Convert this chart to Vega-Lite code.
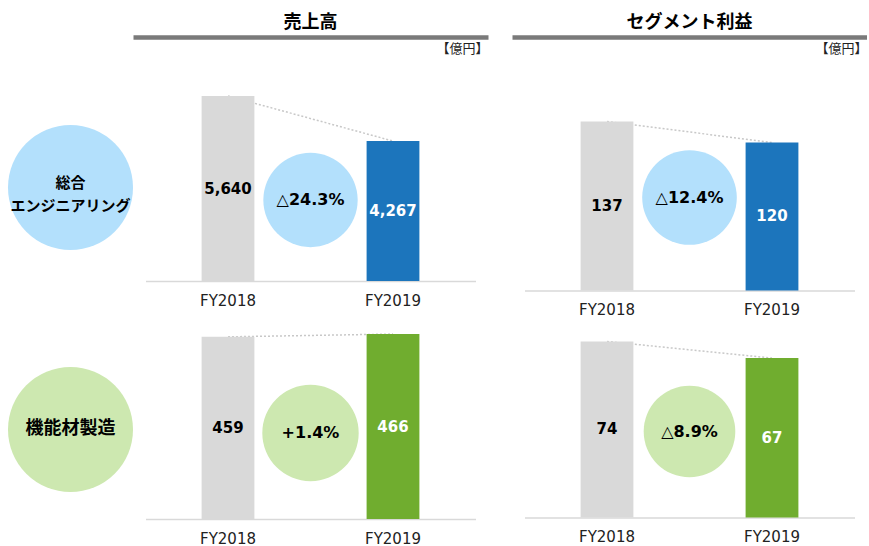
{
  "$schema": "https://vega.github.io/schema/vega-lite/v6.json",
  "padding": {"left": 8, "top": 0, "right": 0, "bottom": 0},
  "background": "white",
  "config": {"view": {"stroke": null}, "axis": {"grid": false}},
  "datasets": {
    "bars": [
      {"segment": "総合エンジニアリング", "metric": "売上高", "year": "FY2018", "value": 5640},
      {"segment": "総合エンジニアリング", "metric": "売上高", "year": "FY2019", "value": 4267},
      {"segment": "総合エンジニアリング", "metric": "セグメント利益", "year": "FY2018", "value": 137},
      {"segment": "総合エンジニアリング", "metric": "セグメント利益", "year": "FY2019", "value": 120},
      {"segment": "機能材製造", "metric": "売上高", "year": "FY2018", "value": 459},
      {"segment": "機能材製造", "metric": "売上高", "year": "FY2019", "value": 466},
      {"segment": "機能材製造", "metric": "セグメント利益", "year": "FY2018", "value": 74},
      {"segment": "機能材製造", "metric": "セグメント利益", "year": "FY2019", "value": 67}
    ],
    "changes": [
      {"segment": "総合エンジニアリング", "metric": "売上高", "change": "△24.3%"},
      {"segment": "総合エンジニアリング", "metric": "セグメント利益", "change": "△12.4%"},
      {"segment": "機能材製造", "metric": "売上高", "change": "+1.4%"},
      {"segment": "機能材製造", "metric": "セグメント利益", "change": "△8.9%"}
    ],
    "segments": [
      {"segment": "総合エンジニアリング", "label": "総合\nエンジニアリング"},
      {"segment": "機能材製造", "label": "機能材製造"}
    ],
    "headers": [
      {"metric": "売上高"},
      {"metric": "セグメント利益"}
    ]
  },
  "hconcat": [
    {
      "hconcat": [
        {
          "width": 125,
          "height": 518,
          "data": {"name": "segments"},
          "layer": [
            {
              "mark": {"type": "circle", "size": 15625, "opacity": 1},
              "encoding": {
                "y": {"field": "segment", "type": "nominal", "scale": {"type": "point", "domain": ["総合エンジニアリング", "機能材製造"], "padding": 0.5702, "align": 0.6793}, "axis": null},
                "color": {"condition": {"test": "datum.segment === '総合エンジニアリング'", "value": "#b3e0fc"}, "value": "#cde8b0"}
              }
            },
            {
              "transform": [{"filter": "datum.segment === '総合エンジニアリング'"}],
              "mark": {"type": "text", "font": "Noto Sans CJK JP", "fontSize": 15, "fontWeight": "bold", "lineBreak": "\n", "lineHeight": 23, "dy": -4, "color": "#000000"},
              "encoding": {
                "y": {"field": "segment", "type": "nominal", "scale": {"type": "point", "domain": ["総合エンジニアリング", "機能材製造"], "padding": 0.5702, "align": 0.6793}, "axis": null},
                "text": {"field": "label"}
              }
            },
            {
              "transform": [{"filter": "datum.segment === '機能材製造'"}],
              "mark": {"type": "text", "font": "Noto Sans CJK JP", "fontSize": 18, "fontWeight": "bold", "dy": 0, "color": "#000000"},
              "encoding": {
                "y": {"field": "segment", "type": "nominal", "scale": {"type": "point", "domain": ["総合エンジニアリング", "機能材製造"], "padding": 0.5702, "align": 0.6793}, "axis": null},
                "text": {"field": "label"}
              }
            }
          ]
        },
        {
          "vconcat": [
            {
              "width": 355,
              "height": 37,
              "data": {"name": "headers"},
              "transform": [{"filter": "datum.metric === '売上高'"}],
              "mark": {"type": "text", "font": "Noto Sans CJK JP", "fontSize": 18, "fontWeight": "bold", "color": "#000000", "dy": 4.5},
              "encoding": {
                "x": {"field": "metric", "type": "nominal", "axis": {"labels": false, "ticks": false, "domainColor": "#7a7a7a", "domainWidth": 4.5, "title": "【億円】", "titleAnchor": "end", "titleAlign": "right", "titleFont": "Noto Sans CJK JP", "titleFontSize": 13, "titleFontWeight": "normal", "titleColor": "#222222", "titlePadding": 5}},
                "text": {"field": "metric"}
              }
            },
            {
              "vconcat": [
                {
                  "width": 330,
                  "height": 162,
                  "layer": [
                    {
                      "data": {"name": "bars"},
                      "transform": [{"filter": "datum.segment === '総合エンジニアリング' && datum.metric === '売上高'"}],
                      "mark": {"type": "line", "strokeDash": [2, 2], "color": "#c8c8c8", "strokeWidth": 1.5},
                      "encoding": {
                        "x": {"field": "year", "type": "nominal", "scale": {"domain": ["FY2018", "FY2019"], "paddingInner": 0.68, "paddingOuter": 0.34}, "axis": {"title": null, "labelAngle": 0, "ticks": false, "tickSize": 0, "labelPadding": 19, "labelBaseline": "middle", "labelFont": "DejaVu Sans", "labelFontSize": 15, "labelColor": "#222222", "domainColor": "#d9d9d9", "domainWidth": 1.5}},
                        "y": {"field": "value", "type": "quantitative", "scale": {"domain": [0, 4939], "nice": false}, "axis": null}
                      }
                    },
                    {
                      "data": {"name": "bars"},
                      "transform": [{"filter": "datum.segment === '総合エンジニアリング' && datum.metric === '売上高'"}],
                      "mark": {"type": "bar"},
                      "encoding": {
                        "x": {"field": "year", "type": "nominal", "scale": {"domain": ["FY2018", "FY2019"], "paddingInner": 0.68, "paddingOuter": 0.34}, "axis": {"title": null, "labelAngle": 0, "ticks": false, "tickSize": 0, "labelPadding": 19, "labelBaseline": "middle", "labelFont": "DejaVu Sans", "labelFontSize": 15, "labelColor": "#222222", "domainColor": "#d9d9d9", "domainWidth": 1.5}},
                        "y": {"field": "value", "type": "quantitative", "scale": {"domain": [0, 4939], "nice": false}, "axis": null},
                        "color": {"condition": {"test": "datum.year === 'FY2018'", "value": "#d9d9d9"}, "value": "#1c75bc"}
                      }
                    },
                    {
                      "data": {"name": "changes"},
                      "transform": [{"filter": "datum.segment === '総合エンジニアリング' && datum.metric === '売上高'"}],
                      "mark": {"type": "circle", "size": 8900, "opacity": 1, "color": "#b3e0fc"},
                      "encoding": {}
                    },
                    {
                      "data": {"name": "changes"},
                      "transform": [{"filter": "datum.segment === '総合エンジニアリング' && datum.metric === '売上高'"}],
                      "mark": {"type": "text", "font": "DejaVu Sans", "fontSize": 16, "fontWeight": "bold", "color": "#000000"},
                      "encoding": {"text": {"field": "change"}}
                    },
                    {
                      "data": {"name": "bars"},
                      "transform": [{"filter": "datum.segment === '総合エンジニアリング' && datum.metric === '売上高'"}],
                      "mark": {"type": "text", "font": "DejaVu Sans", "fontSize": 15, "fontWeight": "bold"},
                      "encoding": {
                        "x": {"field": "year", "type": "nominal", "scale": {"domain": ["FY2018", "FY2019"], "paddingInner": 0.68, "paddingOuter": 0.34}, "axis": {"title": null, "labelAngle": 0, "ticks": false, "tickSize": 0, "labelPadding": 19, "labelBaseline": "middle", "labelFont": "DejaVu Sans", "labelFontSize": 15, "labelColor": "#222222", "domainColor": "#d9d9d9", "domainWidth": 1.5}},
                        "y": {"field": "value", "type": "quantitative", "scale": {"domain": [0, 9878], "nice": false}, "axis": null},
                        "text": {"field": "value", "type": "quantitative", "format": ","},
                        "color": {"condition": {"test": "datum.year === 'FY2018'", "value": "#000000"}, "value": "#ffffff"}
                      }
                    }
                  ],
                  "resolve": {"scale": {"y": "independent"}}
                },
                {
                  "width": 330,
                  "height": 172,
                  "layer": [
                    {
                      "data": {"name": "bars"},
                      "transform": [{"filter": "datum.segment === '機能材製造' && datum.metric === '売上高'"}],
                      "mark": {"type": "line", "strokeDash": [2, 2], "color": "#c8c8c8", "strokeWidth": 1.5},
                      "encoding": {
                        "x": {"field": "year", "type": "nominal", "scale": {"domain": ["FY2018", "FY2019"], "paddingInner": 0.68, "paddingOuter": 0.34}, "axis": {"title": null, "labelAngle": 0, "ticks": false, "tickSize": 0, "labelPadding": 19, "labelBaseline": "middle", "labelFont": "DejaVu Sans", "labelFontSize": 15, "labelColor": "#222222", "domainColor": "#d9d9d9", "domainWidth": 1.5}},
                        "y": {"field": "value", "type": "quantitative", "scale": {"domain": [0, 433.4], "nice": false}, "axis": null}
                      }
                    },
                    {
                      "data": {"name": "bars"},
                      "transform": [{"filter": "datum.segment === '機能材製造' && datum.metric === '売上高'"}],
                      "mark": {"type": "bar"},
                      "encoding": {
                        "x": {"field": "year", "type": "nominal", "scale": {"domain": ["FY2018", "FY2019"], "paddingInner": 0.68, "paddingOuter": 0.34}, "axis": {"title": null, "labelAngle": 0, "ticks": false, "tickSize": 0, "labelPadding": 19, "labelBaseline": "middle", "labelFont": "DejaVu Sans", "labelFontSize": 15, "labelColor": "#222222", "domainColor": "#d9d9d9", "domainWidth": 1.5}},
                        "y": {"field": "value", "type": "quantitative", "scale": {"domain": [0, 433.4], "nice": false}, "axis": null},
                        "color": {"condition": {"test": "datum.year === 'FY2018'", "value": "#d9d9d9"}, "value": "#70ad2f"}
                      }
                    },
                    {
                      "data": {"name": "changes"},
                      "transform": [{"filter": "datum.segment === '機能材製造' && datum.metric === '売上高'"}],
                      "mark": {"type": "circle", "size": 9290, "opacity": 1, "color": "#cde8b0"},
                      "encoding": {}
                    },
                    {
                      "data": {"name": "changes"},
                      "transform": [{"filter": "datum.segment === '機能材製造' && datum.metric === '売上高'"}],
                      "mark": {"type": "text", "font": "DejaVu Sans", "fontSize": 16, "fontWeight": "bold", "color": "#000000"},
                      "encoding": {"text": {"field": "change"}}
                    },
                    {
                      "data": {"name": "bars"},
                      "transform": [{"filter": "datum.segment === '機能材製造' && datum.metric === '売上高'"}],
                      "mark": {"type": "text", "font": "DejaVu Sans", "fontSize": 15, "fontWeight": "bold"},
                      "encoding": {
                        "x": {"field": "year", "type": "nominal", "scale": {"domain": ["FY2018", "FY2019"], "paddingInner": 0.68, "paddingOuter": 0.34}, "axis": {"title": null, "labelAngle": 0, "ticks": false, "tickSize": 0, "labelPadding": 19, "labelBaseline": "middle", "labelFont": "DejaVu Sans", "labelFontSize": 15, "labelColor": "#222222", "domainColor": "#d9d9d9", "domainWidth": 1.5}},
                        "y": {"field": "value", "type": "quantitative", "scale": {"domain": [0, 866.8], "nice": false}, "axis": null},
                        "text": {"field": "value", "type": "quantitative", "format": ","},
                        "color": {"condition": {"test": "datum.year === 'FY2018'", "value": "#000000"}, "value": "#ffffff"}
                      }
                    }
                  ],
                  "resolve": {"scale": {"y": "independent"}}
                }
              ],
              "spacing": 66,
              "bounds": "flush"
            }
          ],
          "spacing": 38,
          "center": true
        }
      ],
      "spacing": -3.5
    },
    {
      "vconcat": [
        {
          "width": 355,
          "height": 37,
          "data": {"name": "headers"},
          "transform": [{"filter": "datum.metric === 'セグメント利益'"}],
          "mark": {"type": "text", "font": "Noto Sans CJK JP", "fontSize": 18, "fontWeight": "bold", "color": "#000000", "dy": 4.5},
          "encoding": {
            "x": {"field": "metric", "type": "nominal", "axis": {"labels": false, "ticks": false, "domainColor": "#7a7a7a", "domainWidth": 4.5, "title": "【億円】", "titleAnchor": "end", "titleAlign": "right", "titleFont": "Noto Sans CJK JP", "titleFontSize": 13, "titleFontWeight": "normal", "titleColor": "#222222", "titlePadding": 5}},
            "text": {"field": "metric"}
          }
        },
        {
          "vconcat": [
            {
              "width": 330,
              "height": 186,
              "layer": [
                {
                  "data": {"name": "bars"},
                  "transform": [{"filter": "datum.segment === '総合エンジニアリング' && datum.metric === 'セグメント利益'"}],
                  "mark": {"type": "line", "strokeDash": [2, 2], "color": "#c8c8c8", "strokeWidth": 1.5},
                  "encoding": {
                    "x": {"field": "year", "type": "nominal", "scale": {"domain": ["FY2018", "FY2019"], "paddingInner": 0.68, "paddingOuter": 0.34}, "axis": {"title": null, "labelAngle": 0, "ticks": false, "tickSize": 0, "labelPadding": 19, "labelBaseline": "middle", "labelFont": "DejaVu Sans", "labelFontSize": 15, "labelColor": "#222222", "domainColor": "#d9d9d9", "domainWidth": 1.5}},
                    "y": {"field": "value", "type": "quantitative", "scale": {"domain": [0, 150.8], "nice": false}, "axis": null}
                  }
                },
                {
                  "data": {"name": "bars"},
                  "transform": [{"filter": "datum.segment === '総合エンジニアリング' && datum.metric === 'セグメント利益'"}],
                  "mark": {"type": "bar"},
                  "encoding": {
                    "x": {"field": "year", "type": "nominal", "scale": {"domain": ["FY2018", "FY2019"], "paddingInner": 0.68, "paddingOuter": 0.34}, "axis": {"title": null, "labelAngle": 0, "ticks": false, "tickSize": 0, "labelPadding": 19, "labelBaseline": "middle", "labelFont": "DejaVu Sans", "labelFontSize": 15, "labelColor": "#222222", "domainColor": "#d9d9d9", "domainWidth": 1.5}},
                    "y": {"field": "value", "type": "quantitative", "scale": {"domain": [0, 150.8], "nice": false}, "axis": null},
                    "color": {"condition": {"test": "datum.year === 'FY2018'", "value": "#d9d9d9"}, "value": "#1c75bc"}
                  }
                },
                {
                  "data": {"name": "changes"},
                  "transform": [{"filter": "datum.segment === '総合エンジニアリング' && datum.metric === 'セグメント利益'"}],
                  "mark": {"type": "circle", "size": 8950, "opacity": 1, "color": "#b3e0fc"},
                  "encoding": {}
                },
                {
                  "data": {"name": "changes"},
                  "transform": [{"filter": "datum.segment === '総合エンジニアリング' && datum.metric === 'セグメント利益'"}],
                  "mark": {"type": "text", "font": "DejaVu Sans", "fontSize": 16, "fontWeight": "bold", "color": "#000000"},
                  "encoding": {"text": {"field": "change"}}
                },
                {
                  "data": {"name": "bars"},
                  "transform": [{"filter": "datum.segment === '総合エンジニアリング' && datum.metric === 'セグメント利益'"}],
                  "mark": {"type": "text", "font": "DejaVu Sans", "fontSize": 15, "fontWeight": "bold"},
                  "encoding": {
                    "x": {"field": "year", "type": "nominal", "scale": {"domain": ["FY2018", "FY2019"], "paddingInner": 0.68, "paddingOuter": 0.34}, "axis": {"title": null, "labelAngle": 0, "ticks": false, "tickSize": 0, "labelPadding": 19, "labelBaseline": "middle", "labelFont": "DejaVu Sans", "labelFontSize": 15, "labelColor": "#222222", "domainColor": "#d9d9d9", "domainWidth": 1.5}},
                    "y": {"field": "value", "type": "quantitative", "scale": {"domain": [0, 301.6], "nice": false}, "axis": null},
                    "text": {"field": "value", "type": "quantitative", "format": ","},
                    "color": {"condition": {"test": "datum.year === 'FY2018'", "value": "#000000"}, "value": "#ffffff"}
                  }
                }
              ],
              "resolve": {"scale": {"y": "independent"}}
            },
            {
              "width": 330,
              "height": 172,
              "layer": [
                {
                  "data": {"name": "bars"},
                  "transform": [{"filter": "datum.segment === '機能材製造' && datum.metric === 'セグメント利益'"}],
                  "mark": {"type": "line", "strokeDash": [2, 2], "color": "#c8c8c8", "strokeWidth": 1.5},
                  "encoding": {
                    "x": {"field": "year", "type": "nominal", "scale": {"domain": ["FY2018", "FY2019"], "paddingInner": 0.68, "paddingOuter": 0.34}, "axis": {"title": null, "labelAngle": 0, "ticks": false, "tickSize": 0, "labelPadding": 19, "labelBaseline": "middle", "labelFont": "DejaVu Sans", "labelFontSize": 15, "labelColor": "#222222", "domainColor": "#d9d9d9", "domainWidth": 1.5}},
                    "y": {"field": "value", "type": "quantitative", "scale": {"domain": [0, 72.3], "nice": false}, "axis": null}
                  }
                },
                {
                  "data": {"name": "bars"},
                  "transform": [{"filter": "datum.segment === '機能材製造' && datum.metric === 'セグメント利益'"}],
                  "mark": {"type": "bar"},
                  "encoding": {
                    "x": {"field": "year", "type": "nominal", "scale": {"domain": ["FY2018", "FY2019"], "paddingInner": 0.68, "paddingOuter": 0.34}, "axis": {"title": null, "labelAngle": 0, "ticks": false, "tickSize": 0, "labelPadding": 19, "labelBaseline": "middle", "labelFont": "DejaVu Sans", "labelFontSize": 15, "labelColor": "#222222", "domainColor": "#d9d9d9", "domainWidth": 1.5}},
                    "y": {"field": "value", "type": "quantitative", "scale": {"domain": [0, 72.3], "nice": false}, "axis": null},
                    "color": {"condition": {"test": "datum.year === 'FY2018'", "value": "#d9d9d9"}, "value": "#70ad2f"}
                  }
                },
                {
                  "data": {"name": "changes"},
                  "transform": [{"filter": "datum.segment === '機能材製造' && datum.metric === 'セグメント利益'"}],
                  "mark": {"type": "circle", "size": 8390, "opacity": 1, "color": "#cde8b0"},
                  "encoding": {}
                },
                {
                  "data": {"name": "changes"},
                  "transform": [{"filter": "datum.segment === '機能材製造' && datum.metric === 'セグメント利益'"}],
                  "mark": {"type": "text", "font": "DejaVu Sans", "fontSize": 16, "fontWeight": "bold", "color": "#000000"},
                  "encoding": {"text": {"field": "change"}}
                },
                {
                  "data": {"name": "bars"},
                  "transform": [{"filter": "datum.segment === '機能材製造' && datum.metric === 'セグメント利益'"}],
                  "mark": {"type": "text", "font": "DejaVu Sans", "fontSize": 15, "fontWeight": "bold"},
                  "encoding": {
                    "x": {"field": "year", "type": "nominal", "scale": {"domain": ["FY2018", "FY2019"], "paddingInner": 0.68, "paddingOuter": 0.34}, "axis": {"title": null, "labelAngle": 0, "ticks": false, "tickSize": 0, "labelPadding": 19, "labelBaseline": "middle", "labelFont": "DejaVu Sans", "labelFontSize": 15, "labelColor": "#222222", "domainColor": "#d9d9d9", "domainWidth": 1.5}},
                    "y": {"field": "value", "type": "quantitative", "scale": {"domain": [0, 144.6], "nice": false}, "axis": null},
                    "text": {"field": "value", "type": "quantitative", "format": ","},
                    "color": {"condition": {"test": "datum.year === 'FY2018'", "value": "#000000"}, "value": "#ffffff"}
                  }
                }
              ],
              "resolve": {"scale": {"y": "independent"}}
            }
          ],
          "spacing": 55,
          "bounds": "flush"
        }
      ],
      "spacing": 49.5,
      "center": true
    }
  ],
  "spacing": 24
}
